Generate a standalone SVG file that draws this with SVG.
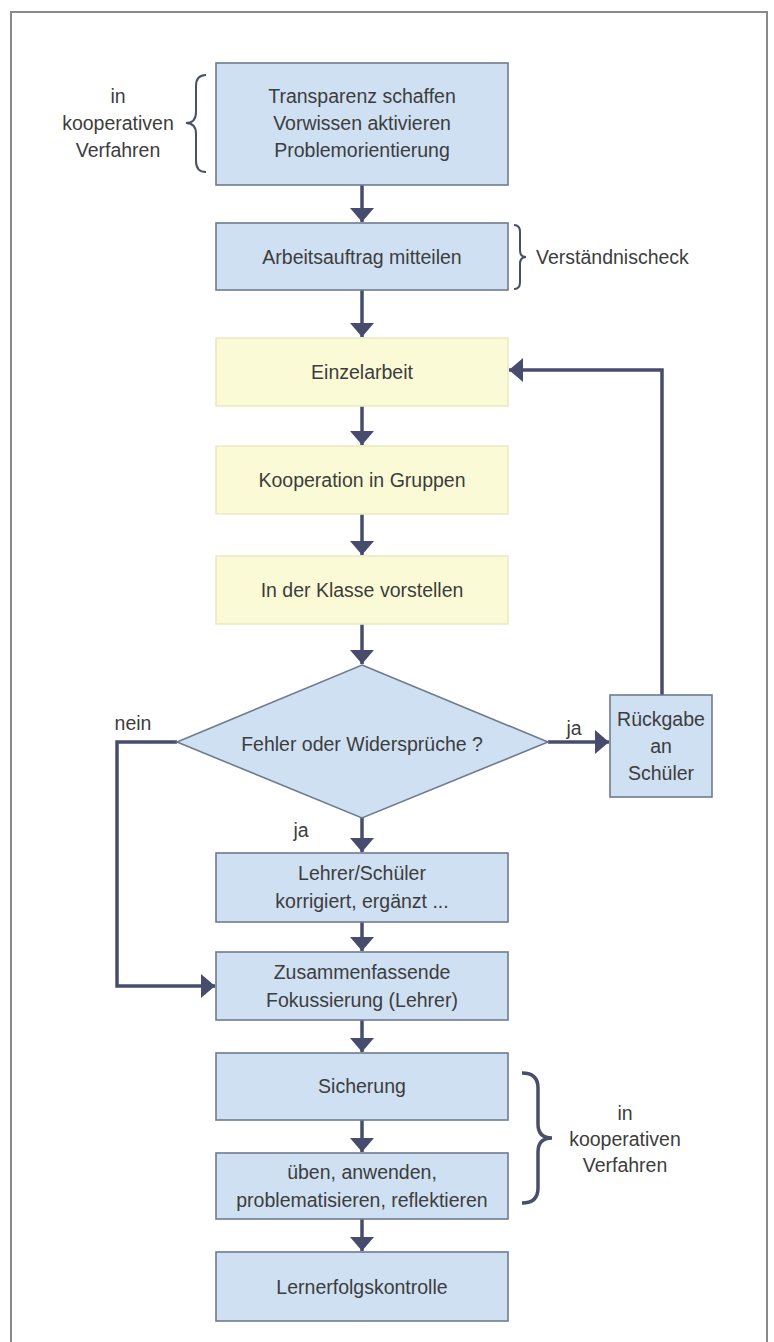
<svg xmlns="http://www.w3.org/2000/svg" width="774" height="1342" viewBox="0 0 774 1342">
<defs>
<marker id="ah" markerUnits="userSpaceOnUse" markerWidth="16" markerHeight="26" refX="14" refY="12" orient="auto">
<path d="M0,0 L14,12 L0,24 z" fill="#474c6e"/>
</marker>
<style>
.frame{fill:none;stroke:#8a8a8a;stroke-width:2}
.blue{fill:#cfe0f3;stroke:#6e7b8e;stroke-width:1.6}
.yellow{fill:#fbfad6;stroke:#ecebc2;stroke-width:1.6}
.t{font-family:"Liberation Sans",Arial,sans-serif;font-size:19.5px;fill:#3d3d3d;text-anchor:middle}
.ts{font-family:"Liberation Sans",Arial,sans-serif;font-size:19.5px;fill:#3d3d3d}
.c{fill:none;stroke:#474c6e;stroke-width:3.5}
.br{fill:none;stroke:#4a4f68;stroke-width:2}
.brb{fill:none;stroke:#4a4f68;stroke-width:3.5}
</style>
</defs>
<rect width="774" height="1342" fill="#ffffff"/>
<path class="frame" d="M11,1342 V12 H767 V1342"/>

<g id="connectors">
<path class="c" d="M362,185 V222" marker-end="url(#ah)"/>
<path class="c" d="M362,290 V337" marker-end="url(#ah)"/>
<path class="c" d="M362,406 V445" marker-end="url(#ah)"/>
<path class="c" d="M362,514 V555" marker-end="url(#ah)"/>
<path class="c" d="M362,624 V664" marker-end="url(#ah)"/>
<path class="c" d="M548,742 H609" marker-end="url(#ah)"/>
<path class="c" d="M662,695 V370 H509" marker-end="url(#ah)"/>
<path class="c" d="M362,818 V852" marker-end="url(#ah)"/>
<path class="c" d="M362,922 V951" marker-end="url(#ah)"/>
<path class="c" d="M177,742 H117 V986 H215" marker-end="url(#ah)"/>
<path class="c" d="M362,1020 V1052" marker-end="url(#ah)"/>
<path class="c" d="M362,1120 V1152" marker-end="url(#ah)"/>
<path class="c" d="M362,1219 V1251" marker-end="url(#ah)"/>
</g>

<g id="brace-top">
<path class="br" d="M206,75 Q196,75 196,86 V112 Q196,123 186,123 Q196,123 196,134 V161 Q196,172 206,172"/>
<text class="t" x="118" y="103">in</text>
<text class="t" x="118" y="130">kooperativen</text>
<text class="t" x="118" y="157">Verfahren</text>
</g>

<g id="n1">
<rect class="blue" x="216" y="63" width="292" height="122"/>
<text class="t" x="362" y="103">Transparenz schaffen</text>
<text class="t" x="362" y="130">Vorwissen aktivieren</text>
<text class="t" x="362" y="157">Problemorientierung</text>
</g>

<g id="n2">
<rect class="blue" x="216" y="223" width="292" height="67"/>
<text class="t" x="362" y="264">Arbeitsauftrag mitteilen</text>
</g>

<g id="brace-check">
<path class="br" d="M514,225 Q520,225 520,232 V250 Q520,257 526,257 Q520,257 520,264 V282 Q520,289 514,289"/>
<text class="ts" x="536" y="264">Verständnischeck</text>
</g>

<g id="n3">
<rect class="yellow" x="216" y="338" width="292" height="68"/>
<text class="t" x="362" y="379">Einzelarbeit</text>
</g>

<g id="n4">
<rect class="yellow" x="216" y="446" width="292" height="68"/>
<text class="t" x="362" y="487">Kooperation in Gruppen</text>
</g>

<g id="n5">
<rect class="yellow" x="216" y="556" width="292" height="68"/>
<text class="t" x="362" y="597">In der Klasse vorstellen</text>
</g>

<g id="n6">
<polygon class="blue" points="362,665 548,742 362,818 177,742"/>
<text class="t" x="362" y="751">Fehler oder Widersprüche ?</text>
</g>

<g id="labels">
<text class="t" x="133" y="730">nein</text>
<text class="t" x="574" y="735">ja</text>
<text class="t" x="301" y="837">ja</text>
</g>

<g id="n7">
<rect class="blue" x="610" y="695" width="102" height="102"/>
<text class="t" x="661" y="726">Rückgabe</text>
<text class="t" x="661" y="753">an</text>
<text class="t" x="661" y="780">Schüler</text>
</g>

<g id="n8">
<rect class="blue" x="216" y="853" width="292" height="69"/>
<text class="t" x="362" y="880">Lehrer/Schüler</text>
<text class="t" x="362" y="908">korrigiert, ergänzt ...</text>
</g>

<g id="n9">
<rect class="blue" x="216" y="952" width="292" height="68"/>
<text class="t" x="362" y="979">Zusammenfassende</text>
<text class="t" x="362" y="1007">Fokussierung (Lehrer)</text>
</g>

<g id="n10">
<rect class="blue" x="216" y="1053" width="292" height="67"/>
<text class="t" x="362" y="1093">Sicherung</text>
</g>

<g id="n11">
<rect class="blue" x="216" y="1153" width="292" height="66"/>
<text class="t" x="362" y="1179">üben, anwenden,</text>
<text class="t" x="362" y="1207">problematisieren, reflektieren</text>
</g>

<g id="n12">
<rect class="blue" x="216" y="1252" width="292" height="69"/>
<text class="t" x="362" y="1294">Lernerfolgskontrolle</text>
</g>

<g id="brace-bottom">
<path class="brb" d="M522,1073 Q538,1073 538,1088 V1124 Q538,1138 552,1138 Q538,1138 538,1152 V1188 Q538,1203 522,1203"/>
<text class="t" x="625" y="1120">in</text>
<text class="t" x="625" y="1146">kooperativen</text>
<text class="t" x="625" y="1172">Verfahren</text>
</g>
</svg>
